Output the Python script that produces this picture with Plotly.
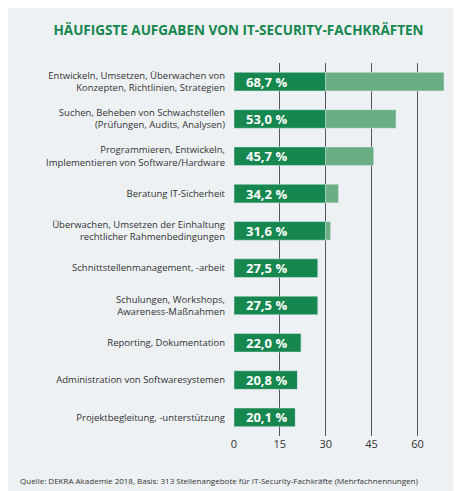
import plotly.graph_objects as go

categories = [
    "Entwickeln, Umsetzen, Überwachen von<br>Konzepten, Richtlinien, Strategien",
    "Suchen, Beheben von Schwachstellen<br>(Prüfungen, Audits, Analysen)",
    "Programmieren, Entwickeln,<br>Implementieren von Software/Hardware",
    "Beratung IT-Sicherheit",
    "Überwachen, Umsetzen der Einhaltung<br>rechtlicher Rahmenbedingungen",
    "Schnittstellenmanagement, -arbeit",
    "Schulungen, Workshops,<br>Awareness-Maßnahmen",
    "Reporting, Dokumentation",
    "Administration von Softwaresystemen",
    "Projektbegleitung, -unterstützung",
]
values = [68.7, 53.0, 45.7, 34.2, 31.6, 27.5, 27.5, 22.0, 20.8, 20.1]
split = 30

dark = [min(v, split) for v in values]
light = [max(v - split, 0) for v in values]

fig = go.Figure()
fig.add_trace(go.Bar(y=categories, x=dark, orientation="h", marker_color="#15874f",
                     width=0.5, showlegend=False))
fig.add_trace(go.Bar(y=categories, x=light, base=dark, orientation="h", marker_color="#6aae84",
                     width=0.5, showlegend=False))

for c, v in zip(categories, values):
    fig.add_annotation(x=0, y=c, text="<b>" + f"{v:.1f}".replace(".", ",") + " %</b>",
                       xanchor="left", xshift=10, showarrow=False,
                       font=dict(color="white", size=13, family="Open Sans"))

# source line, placed relative to the plot area (l=226, width=214)
fig.add_annotation(text="Quelle: DEKRA Akademie 2018, Basis: 313 Stellenangebote für IT-Security-Fachkräfte (Mehrfachnennungen)",
                   xref="paper", yref="paper", x=-1.01, y=0, xanchor="left", yanchor="top",
                   yshift=-37, showarrow=False, font=dict(color="#333", size=8, family="Open Sans"))

fig.update_layout(
    width=461, height=491, barmode="overlay",
    margin=dict(l=226, r=21, t=55, b=63),
    paper_bgcolor="#edf1f3", plot_bgcolor="#edf1f3",
    font=dict(family="Open Sans", size=9.5, color="#333"),
    title=dict(text="<b>HÄUFIGSTE AUFGABEN VON IT-SECURITY-FACHKRÄFTEN</b>",
               x=0.5, xref="container", xanchor="center", y=0.965, yref="container",
               font=dict(color="#15874f", size=13.5, family="Open Sans")),
    xaxis=dict(range=[0, 70], tickvals=[0, 15, 30, 45, 60], showgrid=True,
               gridcolor="#555", gridwidth=1, zeroline=False, showline=False,
               tickfont=dict(size=11)),
    yaxis=dict(autorange="reversed", showgrid=False, ticks="", ticklabelstandoff=8),
)

fig.write_html("out.html")
